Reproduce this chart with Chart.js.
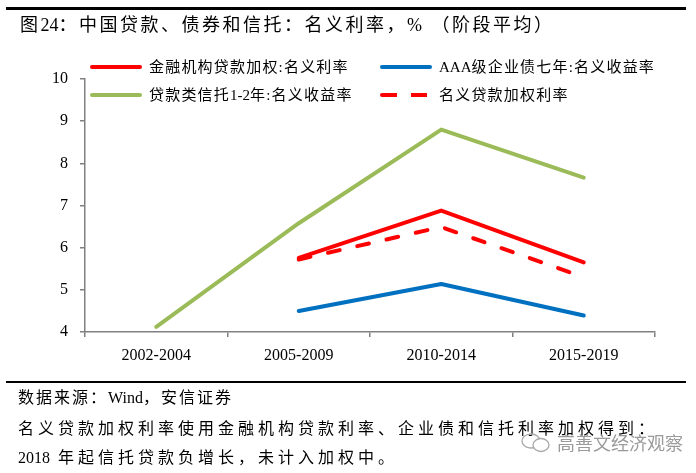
<!DOCTYPE html>
<html>
<head>
<meta charset="utf-8">
<script src="https://cdn.jsdelivr.net/npm/chart.js@4/dist/chart.umd.min.js"></script>
<style>
  body { margin: 0; background: #fff; }
  #wrap { position: relative; width: 696px; height: 473px; overflow: hidden;
    font-family: "Liberation Serif", "Noto Sans CJK SC", serif; color: #000; }
  #chart { position: absolute; left: 0; top: 0; }
  .rule { position: absolute; left: 6px; width: 680px; background: #000; }
  .title { position: absolute; left: 20px; top: 12px; font-size: 18px; letter-spacing: 2.5px; line-height: 26px; white-space: nowrap; }
  .legend-item { position: absolute; height: 20px; line-height: 20px; font-size: 15px; letter-spacing: 1.2px; white-space: nowrap; }
  .legend-item .swatch { position: absolute; left: 0; top: 8px; width: 52px; height: 4px; border-radius: 2px; }
  .legend-item .label { position: absolute; left: 59px; top: 0; }
  .latin { letter-spacing: 0; }
  .src { position: absolute; left: 18px; font-size: 16px; line-height: 22px; white-space: nowrap; }
  .mark { position: absolute; left: 520px; top: 430px; color: #9a9a9a; font-family: "Noto Sans CJK SC", sans-serif; font-size: 18px; line-height: 24px; white-space: nowrap; }
</style>
</head>
<body>
<div id="wrap">
  <canvas id="chart" width="696" height="473"></canvas>
  <div class="rule" style="top:7px;height:3px"></div>
  <div class="title">图<span class="latin">24</span>：中国贷款、债券和信托：名义利率，% （阶段平均）</div>
  <div id="legend"></div>
  <div class="rule" style="top:381px;height:1.5px"></div>
  <div class="src" style="top:387px;letter-spacing:2px">数据来源：<span class="latin">Wind</span>，安信证券</div>
  <div class="src" style="top:418px;letter-spacing:4px">名义贷款加权利率使用金融机构贷款利率、企业债和信托利率加权得到：</div>
  <div class="src" style="top:447px;letter-spacing:4px"><span class="latin">2018</span> 年起信托贷款负增长，未计入加权中。</div>
  <div class="mark">
    <svg width="32" height="22" viewBox="0 0 32 22" style="vertical-align:-4px">
      <ellipse cx="11" cy="9" rx="9" ry="7" fill="none" stroke="#a8a8a8" stroke-width="1.3"/>
      <ellipse cx="21" cy="13" rx="8" ry="6.5" fill="#fff" stroke="#a8a8a8" stroke-width="1.3"/>
    </svg><span style="margin-left:5px">高善文经济观察</span>
  </div>
</div>
<script>
// Periods on the x axis
const categories = ['2002-2004', '2005-2009', '2010-2014', '2015-2019'];

// Nominal rates, %, period averages
const loanRate = [null, 5.76, 6.88, 5.65];      // 金融机构贷款加权:名义利率
const aaaBond = [null, 4.50, 5.14, 4.39];       // AAA级企业债七年:名义收益率
const trustLoan = [4.12, 6.58, 8.80, 7.66];     // 贷款类信托1-2年:名义收益率
const weightedRate = [null, 5.72, 6.49, 5.30];  // 名义贷款加权利率

const seriesNames = [
  '金融机构贷款加权:名义利率',
  'AAA级企业债七年:名义收益率',
  '贷款类信托1-2年:名义收益率',
  '名义贷款加权利率',
];
const seriesColors = ['#ff0000', '#0070c0', '#9bbb59', '#ff0000'];
const yTicks = [4, 5, 6, 7, 8, 9, 10];

const AXIS_COLOR = '#808080';
const TICK_FONT = { family: 'Liberation Serif', size: 16 };

function makeDataset(i, values, dashed) {
  return {
    label: seriesNames[i],
    data: values,
    borderColor: seriesColors[i],
    backgroundColor: seriesColors[i],
    borderWidth: 4,
    borderCapStyle: 'round',
    borderJoinStyle: 'round',
    borderDash: dashed ? [12, 18] : [],
    pointRadius: 0,
    tension: 0,
    fill: false,
  };
}

const datasets = [
  makeDataset(0, loanRate, false),
  makeDataset(1, aaaBond, false),
  makeDataset(2, trustLoan, false),
  makeDataset(3, weightedRate, true),
];

// HTML legend, two columns
const legendPos = [
  { left: 90, top: 57 }, { left: 380, top: 57 },
  { left: 90, top: 85 }, { left: 380, top: 85 },
];
const legendEl = document.getElementById('legend');
seriesNames.forEach((name, i) => {
  const item = document.createElement('div');
  item.className = 'legend-item';
  item.style.left = legendPos[i].left + 'px';
  item.style.top = legendPos[i].top + 'px';
  const sw = document.createElement('div');
  sw.className = 'swatch';
  if (i === 3) {
    sw.style.background = `linear-gradient(to right, ${seriesColors[i]} 0 17px, transparent 17px 31px, ${seriesColors[i]} 31px 47px, transparent 47px)`;
  } else {
    sw.style.background = seriesColors[i];
  }
  const lb = document.createElement('span');
  lb.className = 'label';
  // latin runs (AAA, 1-2) without extra spacing
  name.split(/([A-Za-z0-9\-]+)/).forEach(part => {
    if (!part) return;
    const s = document.createElement('span');
    if (/^[A-Za-z0-9\-]+$/.test(part)) s.className = 'latin';
    s.textContent = part;
    lb.appendChild(s);
  });
  item.appendChild(sw);
  item.appendChild(lb);
  legendEl.appendChild(item);
});

new Chart(document.getElementById('chart'), {
  type: 'line',
  data: { labels: categories, datasets },
  options: {
    responsive: false,
    animation: false,
    events: [],
    layout: { padding: { left: 0, top: 79, right: 41, bottom: 101 } },
    plugins: { legend: { display: false }, tooltip: { enabled: false } },
    scales: {
      x: {
        type: 'category',
        offset: true,
        grid: { offset: true, drawOnChartArea: false, tickLength: 5, color: AXIS_COLOR, lineWidth: 1.5 },
        border: { color: AXIS_COLOR, width: 1.5 },
        ticks: { color: '#000', font: TICK_FONT, padding: 9, maxRotation: 0 },
        afterFit: s => { s.height = 40; },
      },
      y: {
        min: yTicks[0],
        max: yTicks[yTicks.length - 1],
        afterBuildTicks: s => { s.ticks = yTicks.map(v => ({ value: v })); },
        grid: { drawOnChartArea: false, tickLength: 5, color: AXIS_COLOR, lineWidth: 1.5 },
        border: { color: AXIS_COLOR, width: 1.5 },
        ticks: { color: '#000', font: TICK_FONT, padding: 12 },
        afterFit: s => { s.width = 85; },
      },
    },
  },
});
</script>
</body>
</html>
